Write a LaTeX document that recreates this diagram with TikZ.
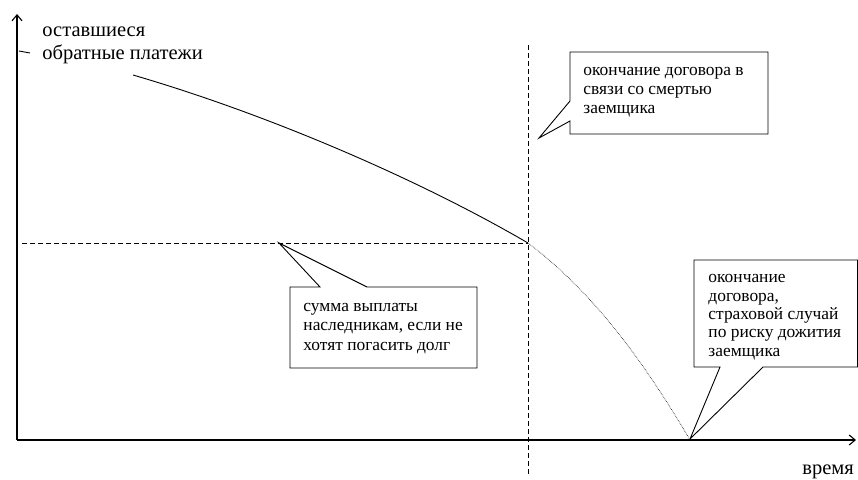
\documentclass[tikz,border=0pt]{standalone}
\usepackage{fontspec}
\usetikzlibrary{arrows.meta}
\setmainfont{Liberation Serif}
\begin{document}
\begin{tikzpicture}[x=1pt,y=-1pt,line width=0.9pt,
	axis/.style={line width=1.3pt,-{Straight Barb[length=6pt,width=10pt,line width=1.1pt]}},
	guide/.style={line width=1pt,dash pattern=on 5pt off 3pt},
	txt/.style={anchor=base west,align=left,inner sep=0pt,font=\fontsize{17.4}{18.7}\selectfont},
	box/.style={draw,fill=white,line join=miter}]
	\useasboundingbox (0,0) rectangle (858,479);
	\coordinate (o) at (17,440);
	\coordinate (ytop) at (17,14);
	\coordinate (xend) at (856,440);
	\coordinate (s) at (133,75);
	\coordinate (d) at (528,243);
	\coordinate (e) at (690,440);
	\draw [axis] (o) -- (ytop);
	\draw [axis] (o) -- (xend);
	\draw (19,51) -- (30,53);
	\node [txt,font=\fontsize{20.5}{23}\selectfont] (ylab) at (42,59) {оставшиеся\\обратные платежи};
	\node [txt,font=\fontsize{20.5}{23}\selectfont] (xlab) at (802,474.5) {время};
	
	\draw (s) .. controls (270,115) and (420,180) .. (d);
	\draw [densely dotted,line width=0.6pt] (d) .. controls (590,290) and (640,355) .. (e);
	\draw [guide] (22,243) -- (d);
	\draw [guide] (528,45) -- (528,475);
	
	\draw [box] (570,52) -- (768,52) -- (768,134) -- (570,134) -- (570,121) -- (539,138) -- (570,101) -- cycle;
	\node [txt] (death) at (583,113) {окончание договора в\\связи со смертью\\заемщика};
	
	\draw [box] (290,287) -- (320,287) -- (279,243) -- (367,287) -- (477,287) -- (477,368) -- (290,368) -- cycle;
	\node [txt,font=\fontsize{17.4}{19.5}\selectfont] (heirs) at (303,350) {сумма выплаты\\наследникам, если не\\хотят погасить долг};
	
	\draw [box] (694,260) -- (857.5,260) -- (857.5,367) -- (763,367) -- (690,439) -- (720,367) -- (694,367) -- cycle;
	\node [txt,font=\fontsize{17.4}{18.3}\selectfont] (survive) at (708,356) {окончание\\договора,\\страховой случай\\по риску дожития\\заемщика};
\end{tikzpicture}
\end{document}
